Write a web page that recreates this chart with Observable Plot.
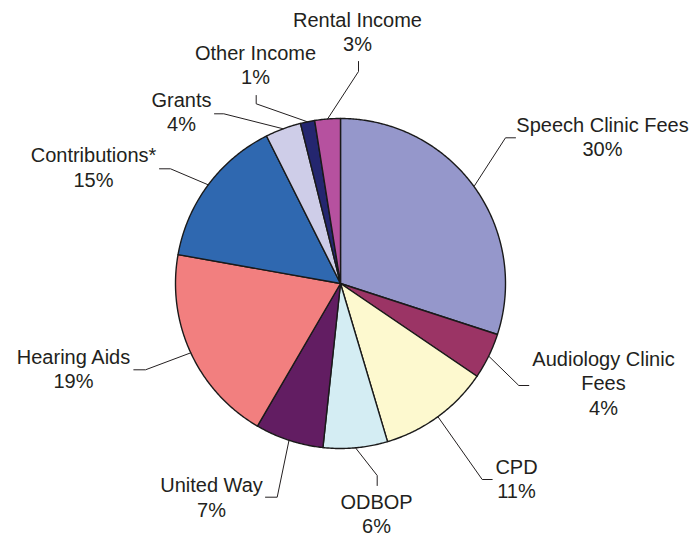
<!DOCTYPE html>
<html><head><meta charset="utf-8">
<script src="https://cdn.jsdelivr.net/npm/d3@7"></script>
<script src="https://cdn.jsdelivr.net/npm/@observablehq/plot@0.6"></script>
<style>body{margin:0;background:#fff} #chart svg{display:block}</style>
</head><body><div id="chart"></div>
<script>
// ---- data (clockwise from 12 o'clock) ----
const categories = ["Speech Clinic Fees","Audiology Clinic Fees","CPD","ODBOP","United Way","Hearing Aids","Contributions*","Grants","Other Income","Rental Income"];
const values = [30.0, 4.5, 10.9, 6.3, 6.7, 19.4, 14.8, 3.5, 1.4, 2.5];
const percentLabels = ["30%","4%","11%","6%","7%","19%","15%","4%","1%","3%"];
const labelNames = ["Speech Clinic Fees","Audiology Clinic\nFees","CPD","ODBOP","United Way","Hearing Aids","Contributions*","Grants","Other Income","Rental Income"];
const colors = ["#9597cb","#9b3465","#fdf9cf","#d4edf3","#621d62","#f27f7f","#2f68b0","#cecde8","#24266f","#b6519f"];

// ---- layout (pixels) ----
const W = 693, H = 533;
const cx = 340, cy = 283, R = 165;
const labelX = [602, 603, 516, 376, 211, 73, 93, 181, 255, 357];
const labelBaseline = [132.3, 366, 474.3, 509.3, 492.7, 364.3, 162.7, 107.3, 60, 27.3];
const leaderElbow = [[505,137.3],[518.3,385],[481.7,479],[376.7,475],[276.7,496.7],[145,369.3],[170,168.3],[223.3,113.3],[255.7,103.3],[358,71]];
const leaderEnd = [[515,137.3],[528.3,385],[491.7,479],[376.7,485],[265,496.7],[133.3,369.3],[159,168.3],[214,113.3],[255.7,95],[358,61]];
const fontSize = 20, lineH = 24.4/20;

const arcs = d3.pie().sort(null).startAngle(0).endAngle(2*Math.PI)(values);
const pt = (a, r) => ({x: cx + r*Math.sin(a), y: cy - r*Math.cos(a)});

const slicePts = [];
arcs.forEach((a, i) => {
  const name = categories[i];
  slicePts.push({name, ...pt(0, 0)});
  const n = Math.max(2, Math.ceil((a.endAngle - a.startAngle)/(Math.PI/360)));
  for (let k = 0; k <= n; k++) {
    const t = a.startAngle + (a.endAngle - a.startAngle)*k/n;
    slicePts.push({name, ...pt(t, R)});
  }
});

const leaderPts = [];
arcs.forEach((a, i) => {
  const name = categories[i];
  const mid = (a.startAngle + a.endAngle)/2;
  leaderPts.push({name, x: leaderEnd[i][0], y: leaderEnd[i][1]});
  leaderPts.push({name, x: leaderElbow[i][0], y: leaderElbow[i][1]});
  leaderPts.push({name, ...pt(mid, R)});
});

const labels = categories.map((c, i) => ({
  text: labelNames[i] + "\n" + percentLabels[i],
  x: labelX[i],
  y: labelBaseline[i] - 0.905*fontSize
}));

const chart = Plot.plot({
  width: W, height: H,
  margin: 0,
  x: {domain: [0, W], range: [0, W], axis: null},
  y: {domain: [0, H], range: [0, H], axis: null},
  color: {domain: categories, range: colors},
  style: {background: "#fff", fontFamily: "'Liberation Sans', Arial, sans-serif"},
  marks: [
    Plot.line(slicePts, {x: "x", y: "y", z: "name", fill: "name", stroke: "#1a1a1a", strokeWidth: 1.4, strokeLinejoin: "round", curve: "linear-closed"}),
    Plot.line(leaderPts, {x: "x", y: "y", z: "name", stroke: "#231f20", strokeWidth: 1}),
    Plot.text(labels, {x: "x", y: "y", text: "text", textAnchor: "middle", lineAnchor: "top", lineHeight: lineH, fontSize: fontSize, fill: "#231f20"})
  ]
});
document.getElementById("chart").append(chart);
</script>
</body></html>
